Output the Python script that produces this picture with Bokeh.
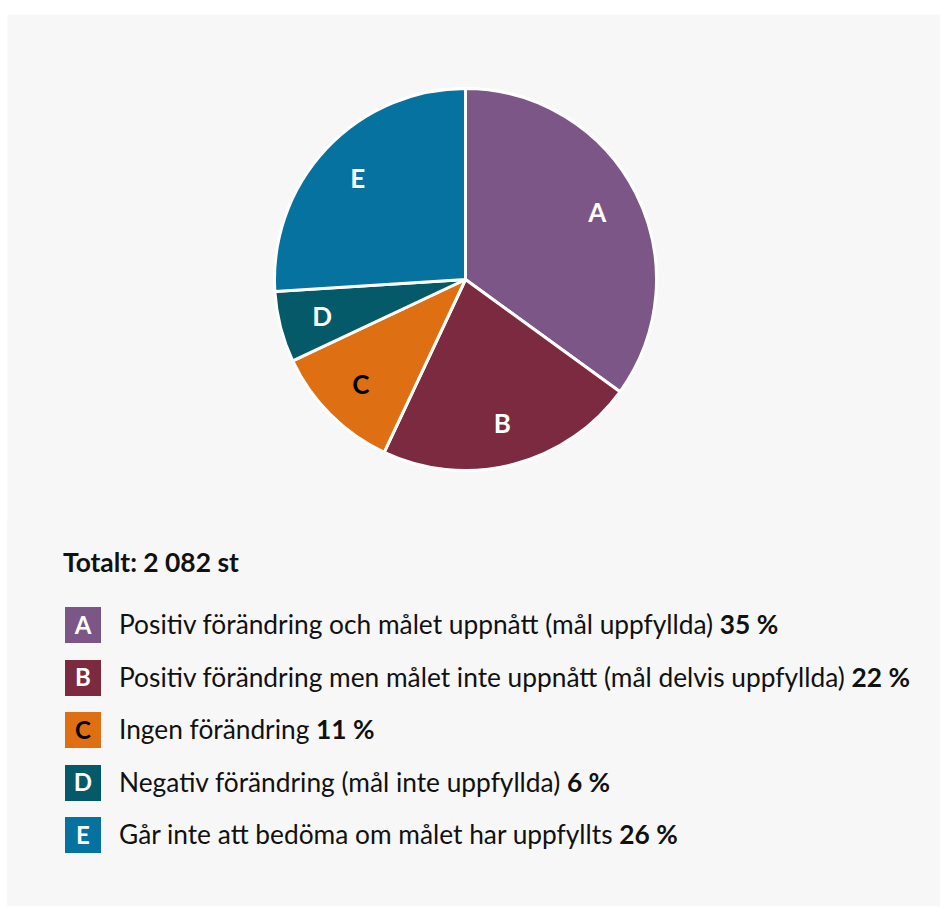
import math
from bokeh.plotting import figure
from bokeh.models import Range1d, ColumnDataSource, Div, Spacer
from bokeh.layouts import column, row
from bokeh.core.properties import value
from bokeh.embed import file_html
from bokeh.resources import INLINE

# ---- data ----
letters = ["A", "B", "C", "D", "E"]
shares = [35, 22, 11, 6, 26]
descriptions = [
    "Positiv förändring och målet uppnått (mål uppfyllda)",
    "Positiv förändring men målet inte uppnått (mål delvis uppfyllda)",
    "Ingen förändring",
    "Negativ förändring (mål inte uppfyllda)",
    "Går inte att bedöma om målet har uppfyllts",
]
colors = ["#7b5686", "#7b2a40", "#df6f13", "#045a68", "#0572a0"]
label_colors = ["white", "white", "black", "white", "white"]
total_text = "Totalt: 2 082 st"

BG = "#f7f7f7"
W = 933
FIG_H = 506
DIV_H = 386
CX, CY, R = 458, 241, 191
LABEL_R = 148

total = sum(shares)
starts, ends, mids = [], [], []
cum = 0.0
for s in shares:
    a0 = math.pi / 2 - 2 * math.pi * cum / total
    cum += s
    a1 = math.pi / 2 - 2 * math.pi * cum / total
    starts.append(a0)
    ends.append(a1)
    mids.append((a0 + a1) / 2)

src = ColumnDataSource(dict(
    start=starts, end=ends, color=colors,
    lx=[CX + LABEL_R * math.cos(m) for m in mids],
    ly=[CY + LABEL_R * math.sin(m) for m in mids],
    letter=letters, lcolor=label_colors,
))

p = figure(width=W, height=FIG_H, x_range=Range1d(0, W), y_range=Range1d(0, FIG_H),
           output_backend="svg", toolbar_location=None,
           x_axis_location=None, y_axis_location=None, min_border=0)
p.grid.visible = False
p.outline_line_color = None
p.background_fill_color = BG
p.border_fill_color = BG

p.wedge(x=CX, y=CY, radius=R, start_angle="start", end_angle="end",
        direction="clock", fill_color="color", line_color="white",
        line_width=3, source=src)
p.text(x="lx", y="ly", text="letter", text_color="lcolor",
       text_font=value("Lato"), text_font_style="bold", text_font_size="26px",
       text_align="center", text_baseline="middle", source=src)

# ---- legend as HTML ----
rows = []
for i, (let, sh, desc, col, lc) in enumerate(zip(letters, shares, descriptions, colors, label_colors)):
    top = 87 + i * 52.5
    rows.append(
        f'<div style="position:absolute;left:58px;top:{top}px;height:36px;display:flex;align-items:center;white-space:nowrap;">'
        f'<div style="width:36px;height:36px;background:{col};color:{lc};font-weight:bold;font-size:24px;'
        f'display:flex;align-items:center;justify-content:center;">{let}</div>'
        f'<div style="margin-left:18px;font-size:26.3px;color:#111;">{desc} <b>{sh} %</b></div>'
        f'</div>'
    )
html = (
    f'<div style="position:relative;width:{W}px;height:{DIV_H}px;background:{BG};font-family:Lato;color:#111;">'
    f'<div style="position:absolute;left:56px;top:24px;font-size:26.4px;font-weight:bold;white-space:nowrap;">{total_text}</div>'
    + "".join(rows) +
    '</div>'
)
div = Div(text=html, width=W, height=DIV_H, styles={"background-color": BG, "margin": "0", "padding": "0"})

layout = column(Spacer(width=940, height=14),
                row(Spacer(width=7, height=10), column(p, div, spacing=0), spacing=0),
                spacing=0)

open("out.html", "w").write(file_html(layout, INLINE))
